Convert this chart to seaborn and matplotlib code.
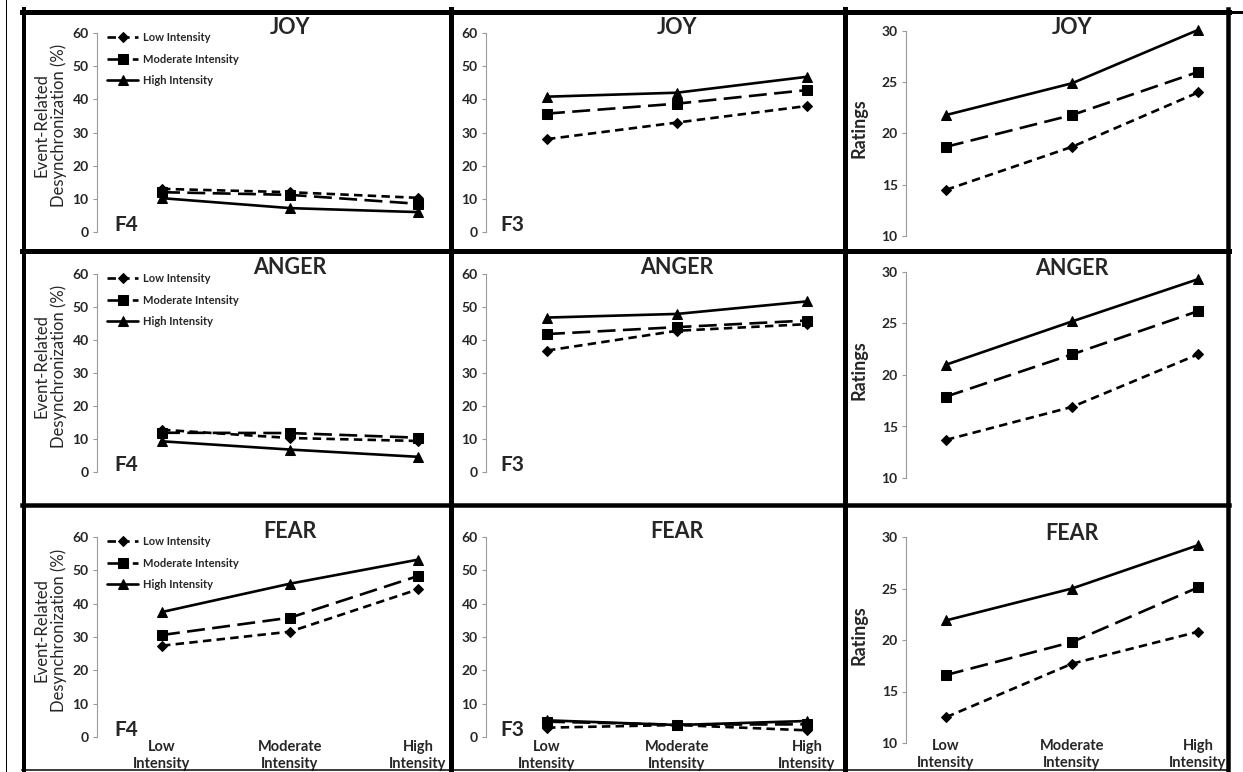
import numpy as np
import pandas as pd
import matplotlib
matplotlib.use("Agg")
import matplotlib.pyplot as plt
import matplotlib.transforms as mtransforms
from matplotlib.lines import Line2D
import seaborn as sns

# ---------------- data ----------------
categories = ["Low\nIntensity", "Moderate\nIntensity", "High\nIntensity"]
series_names = ["Low Intensity", "Moderate Intensity", "High Intensity"]
emotions = ["JOY", "ANGER", "FEAR"]
site_labels = ["F4", "F3"]

# Event-Related Desynchronization (%) at F4
f4_joy_low = [13.0, 12.0, 10.3]
f4_joy_mod = [12.0, 11.2, 8.5]
f4_joy_high = [10.2, 7.2, 6.0]
f4_anger_low = [12.8, 10.3, 9.4]
f4_anger_mod = [11.9, 11.8, 10.4]
f4_anger_high = [9.3, 6.8, 4.6]
f4_fear_low = [27.4, 31.6, 44.3]
f4_fear_mod = [30.6, 35.8, 48.3]
f4_fear_high = [37.5, 46.0, 53.2]

# Event-Related Desynchronization (%) at F3
f3_joy_low = [28.0, 33.0, 38.0]
f3_joy_mod = [35.7, 38.7, 42.8]
f3_joy_high = [40.8, 42.0, 46.8]
f3_anger_low = [36.8, 42.8, 44.8]
f3_anger_mod = [41.8, 43.9, 45.9]
f3_anger_high = [46.8, 47.9, 51.7]
f3_fear_low = [2.8, 3.6, 2.0]
f3_fear_mod = [4.6, 3.7, 3.8]
f3_fear_high = [5.0, 3.6, 4.8]

# Ratings
rat_joy_low = [14.5, 18.7, 24.0]
rat_joy_mod = [18.7, 21.8, 26.0]
rat_joy_high = [21.8, 24.9, 30.1]
rat_anger_low = [13.7, 16.9, 22.0]
rat_anger_mod = [17.9, 22.0, 26.2]
rat_anger_high = [21.0, 25.2, 29.3]
rat_fear_low = [12.5, 17.7, 20.8]
rat_fear_mod = [16.6, 19.8, 25.1]
rat_fear_high = [21.9, 25.0, 29.2]

erd_ticks = [0, 10, 20, 30, 40, 50, 60]
rating_ticks = [10, 15, 20, 25, 30]
erd_ylabel = "Event-Related\nDesynchronization (%)"
rating_ylabel = "Ratings"

panel_data = {
    (0, 0): (f4_joy_low, f4_joy_mod, f4_joy_high),
    (0, 1): (f3_joy_low, f3_joy_mod, f3_joy_high),
    (0, 2): (rat_joy_low, rat_joy_mod, rat_joy_high),
    (1, 0): (f4_anger_low, f4_anger_mod, f4_anger_high),
    (1, 1): (f3_anger_low, f3_anger_mod, f3_anger_high),
    (1, 2): (rat_anger_low, rat_anger_mod, rat_anger_high),
    (2, 0): (f4_fear_low, f4_fear_mod, f4_fear_high),
    (2, 1): (f3_fear_low, f3_fear_mod, f3_fear_high),
    (2, 2): (rat_fear_low, rat_fear_mod, rat_fear_high),
}

# ---------------- style ----------------
sns.set_theme(style="white")
plt.rcParams["font.family"] = ["Lato", "DejaVu Sans"]

W, H = 1243, 772
fig = plt.figure(figsize=(W / 100, H / 100), dpi=100)
fig.patch.set_facecolor("white")

# column geometry in pixels: spine x, low-cat x, high-cat x, right edge
col_geom = [(97, 162, 418, 448), (486, 547, 807, 843), (906, 946, 1198, 1225)]
row_geom_erd = [(33, 232), (274, 472), (537, 737)]
row_geom_rat = [(31, 236), (272, 478), (537, 743)]

series_styles = [
    dict(marker="D", markersize=5.5, linestyle=(0, (3.2, 2.0))),
    dict(marker="s", markersize=7.5, linestyle=(0, (6.8, 2.8))),
    dict(marker="^", markersize=7.5, linestyle="-"),
]
xpos = np.arange(len(categories))
px = 1 / 100.0  # inch per pixel

for r in range(3):
    for c in range(3):
        spine, lowx, highx, right = col_geom[c]
        top, bottom = (row_geom_rat if c == 2 else row_geom_erd)[r]
        ax = fig.add_axes([spine / W, 1 - bottom / H, (right - spine) / W, (bottom - top) / H])
        ax.patch.set_alpha(0)
        sp = (highx - lowx) / 2.0
        for vals, st in zip(panel_data[(r, c)], series_styles):
            sns.lineplot(x=xpos, y=vals, ax=ax, color="black", linewidth=1.9,
                         markeredgecolor="black", markeredgewidth=0.75,
                         clip_on=False, errorbar=None, **st)
        ax.set_xlim((spine - lowx) / sp, 2 + (right - highx) / sp)
        if c == 2:
            ax.set_ylim(rating_ticks[0], rating_ticks[-1])
            ax.set_yticks(rating_ticks)
        else:
            ax.set_ylim(erd_ticks[0], erd_ticks[-1])
            ax.set_yticks(erd_ticks)
        for s in ["top", "right", "bottom"]:
            ax.spines[s].set_visible(False)
        ax.spines["left"].set_color("#9a9a9a")
        ax.spines["left"].set_linewidth(0.8)
        ax.tick_params(axis="y", which="both", left=True, direction="out", length=3,
                       width=0.8, color="#9a9a9a", pad=3, labelsize=10)
        for lab in ax.get_yticklabels():
            lab.set_fontweight("bold")
        if r == 2:
            ax.set_xticks(xpos)
            ax.set_xticklabels(categories, fontsize=10.5, fontweight="bold", linespacing=1.25)
            ax.tick_params(axis="x", length=0, pad=(2 if c < 2 else -3))
        else:
            ax.set_xticks([])
        ax.set_xlabel("")
        ax.set_ylabel("")

        # panel title
        off = 6 if c < 2 else 3
        ttrans = ax.get_xaxis_transform() + mtransforms.ScaledTranslation(0, off * px, fig.dpi_scale_trans)
        ax.text(1, 1, emotions[r], transform=ttrans, ha="center", va="center",
                fontsize=15.5, fontweight="bold", clip_on=False)

        # electrode label
        if c < 2:
            ftrans = ax.transAxes + mtransforms.ScaledTranslation((17 if c == 0 else 14) * px, 1 * px,
                                                                  fig.dpi_scale_trans)
            ax.text(0, 0, site_labels[c], transform=ftrans, ha="left", va="baseline",
                    fontsize=15, fontweight="bold")

        # y labels
        h = bottom - top
        wdt = right - spine
        if c == 0:
            ax.set_ylabel(erd_ylabel, fontsize=12, linespacing=1.1, ha="center", va="center")
            ax.yaxis.set_label_coords((50 - spine) / wdt, 0.5 + 7 / h)
        elif c == 2:
            ax.set_ylabel(rating_ylabel, fontsize=13, fontweight="bold", ha="center", va="center")
            ax.yaxis.set_label_coords((859 - spine) / wdt, 0.5 + 5 / h)

        # legend (left column)
        if c == 0:
            fs = 8
            fs_px = fs / 72 * 100
            ax.legend(handles=ax.lines[:3], labels=series_names, loc="upper left",
                      bbox_to_anchor=((107 - spine) / wdt, 1 + 1 / h), frameon=False,
                      borderpad=0, borderaxespad=0, handlelength=31 / fs_px,
                      handletextpad=5 / fs_px, labelspacing=0.95,
                      prop={"weight": "bold", "size": fs})

# ---------------- table borders ----------------
def vline(x, y0, y1, lw_px):
    fig.add_artist(Line2D([x / W, x / W], [1 - y0 / H, 1 - y1 / H], transform=fig.transFigure,
                          color="black", linewidth=lw_px * 0.72, solid_capstyle="projecting", zorder=10))

def hline(y, x0, x1, lw_px):
    fig.add_artist(Line2D([x0 / W, x1 / W], [1 - y / H, 1 - y / H], transform=fig.transFigure,
                          color="black", linewidth=lw_px * 0.72, solid_capstyle="projecting", zorder=10))

hline(11.5, 22, 1229, 5)
hline(11.5, 1229, 1243, 3)
hline(250.5, 22, 1229, 5)
hline(505, 22, 1229, 4.5)
hline(769.5, 22, 1229, 1.5)
vline(23.5, 9, 772, 4)
vline(450.5, 9, 770, 5)
vline(845.5, 9, 770, 5)
vline(1227.5, 9, 770, 4.5)
vline(5.5, 0, 772, 1)

fig.savefig("out.png", dpi=100, facecolor="white")
